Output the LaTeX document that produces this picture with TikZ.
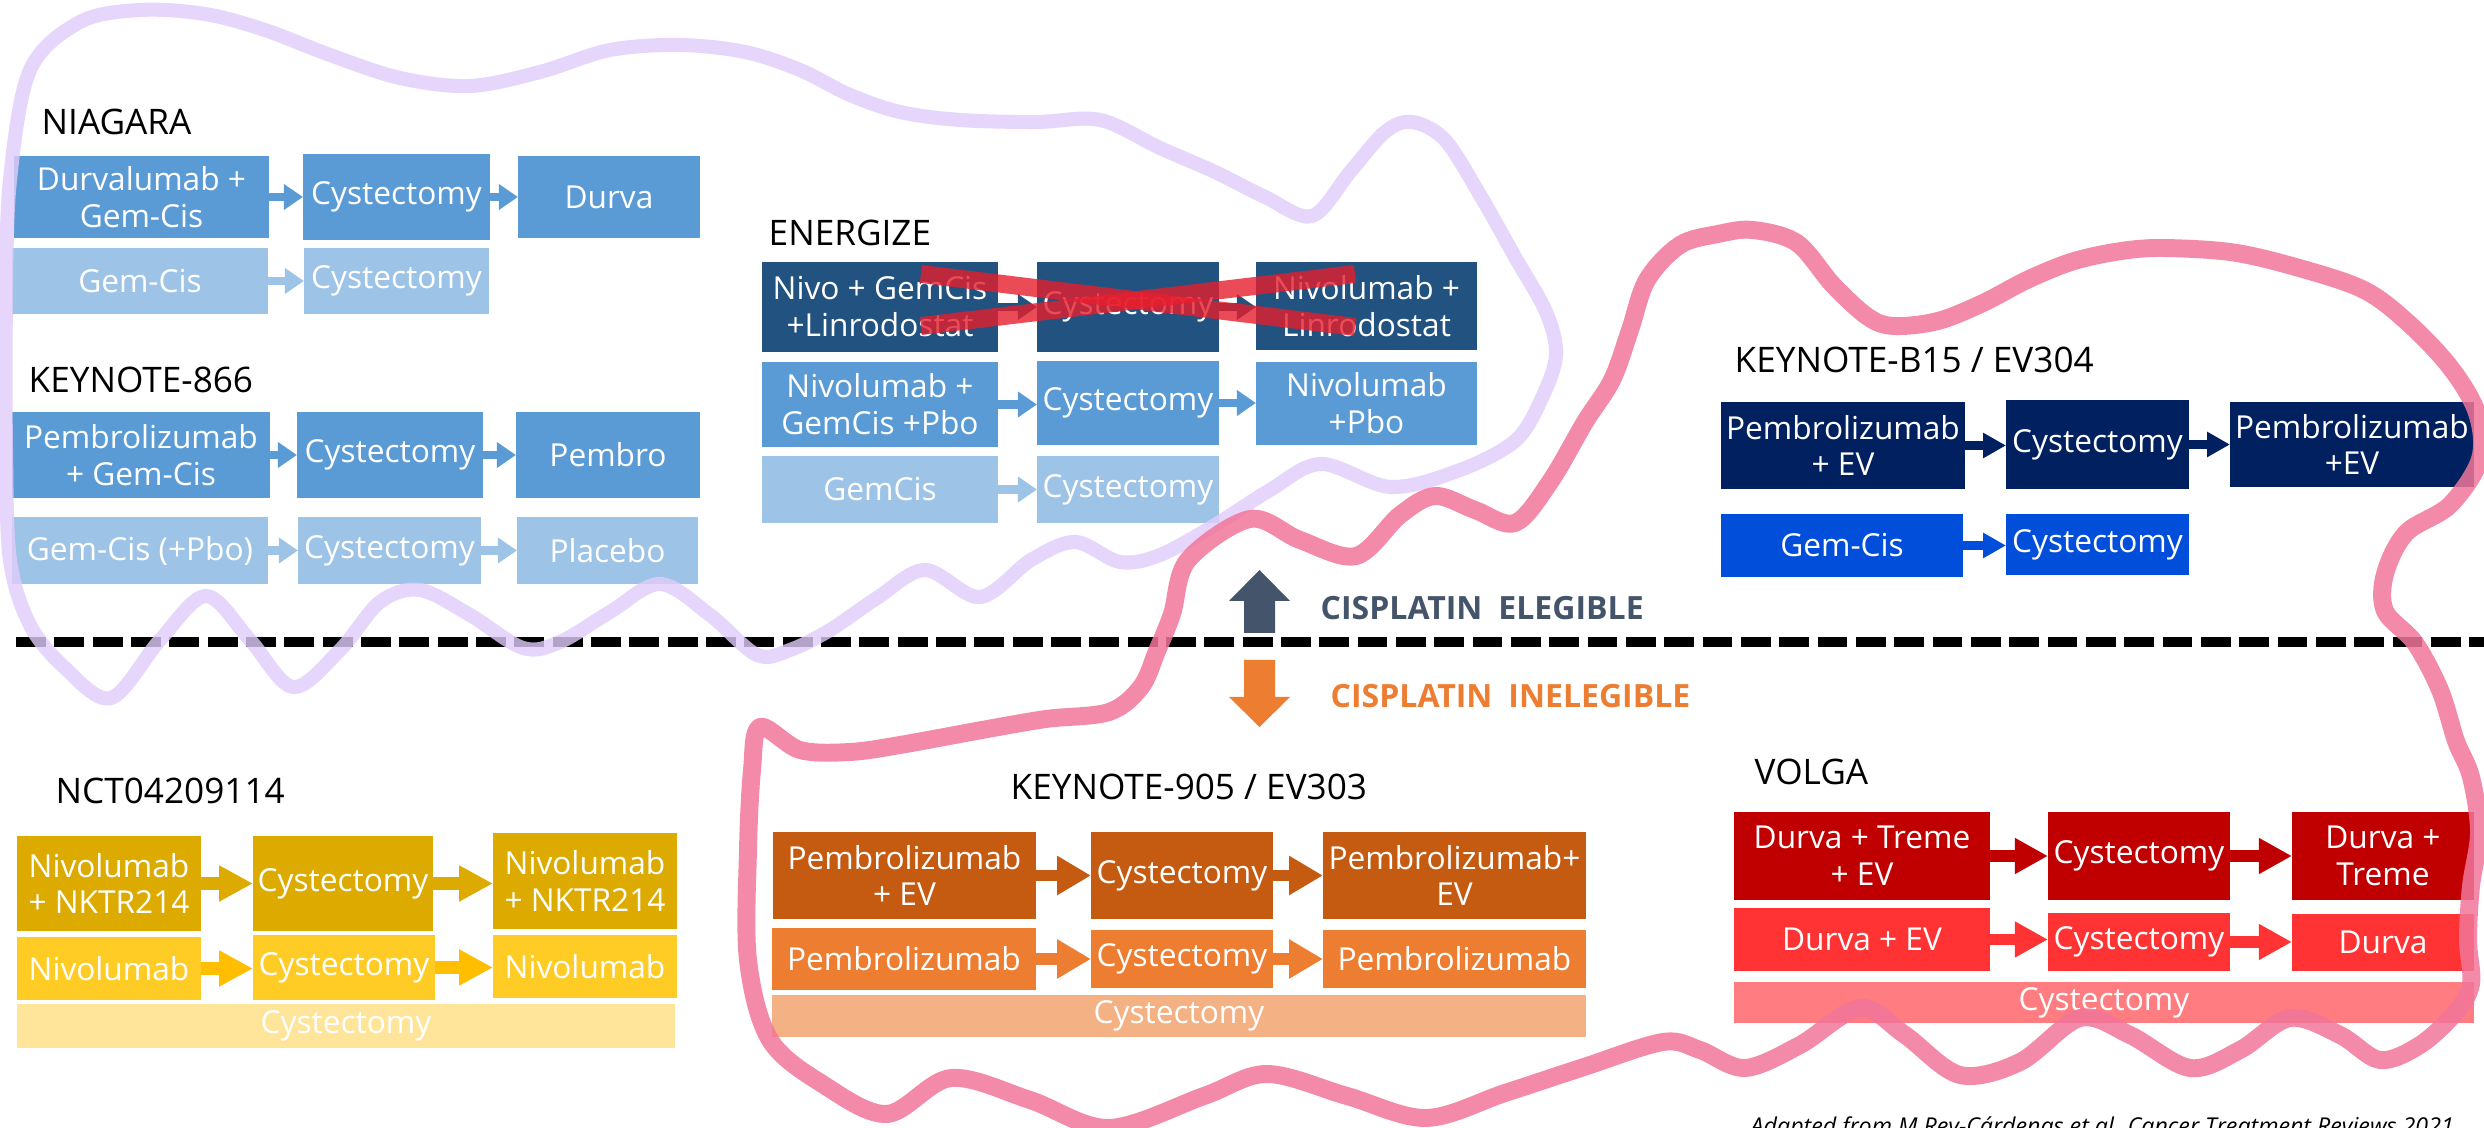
\documentclass[tikz,border=0pt]{standalone}
\usepackage{fontspec}
\setmainfont{Open Sans}
\usetikzlibrary{arrows.meta}
\definecolor{bM}{RGB}{91,155,213}
\definecolor{bL}{RGB}{157,195,230}
\definecolor{bD}{RGB}{34,82,128}
\definecolor{nD}{RGB}{0,32,96}
\definecolor{nB}{RGB}{0,78,218}
\definecolor{yD}{RGB}{221,170,0}
\definecolor{yM}{RGB}{255,204,38}
\definecolor{yA}{RGB}{255,190,0}
\definecolor{yL}{RGB}{255,229,153}
\definecolor{oD}{RGB}{197,90,17}
\definecolor{oM}{RGB}{237,125,49}
\definecolor{oL}{RGB}{244,177,131}
\definecolor{rD}{RGB}{192,0,0}
\definecolor{rM}{RGB}{255,51,51}
\definecolor{rL}{RGB}{255,124,128}
\definecolor{slate}{RGB}{68,84,106}
\definecolor{orng}{RGB}{237,125,49}
\definecolor{lav}{RGB}{226,204,250}
\definecolor{pinkc}{RGB}{242,118,154}
\definecolor{xred}{RGB}{230,30,45}
\tikzset{
  bx/.style={inner sep=0pt, outer sep=0pt, text=white, align=center,
    font=\fontsize{9}{10.5}\selectfont},
  hd/.style={anchor=base west, inner sep=0pt, font=\fontsize{10}{12}\selectfont},
  cis/.style={anchor=base west, inner sep=0pt, font=\fontsize{9.1}{11}\selectfont\bfseries},
  arS/.style={line width=2.3pt, -{Triangle[length=5.4pt,width=7pt]}},
  arK/.style={line width=2.3pt, -{Triangle[length=6.5pt,width=6.8pt]}},
  arY/.style={line width=3.6pt, -{Triangle[length=9.6pt,width=9.6pt]}},
  arO/.style={line width=3.4pt, -{Triangle[length=9.6pt,width=10.5pt]}},
  arR/.style={line width=3.2pt, -{Triangle[length=9.4pt,width=9.6pt]}},
  lavline/.style={draw=lav, line width=4pt, opacity=0.8, line join=round},
  pinkline/.style={draw=pinkc, line width=5.1pt, opacity=0.85, line join=round},
}
\newcommand\mybox[7]{\node[bx, fill=#6, minimum width={0.28453pt*(#4-#2)}, minimum height={0.28453pt*(#5-#3)}] (#1) at ({(#2+#4)/2},{(#3+#5)/2}) {#7};}
\newcommand\myarr[3]{\draw[#3] (#1.east) -- (#1.east -| #2.west);}
\begin{document}
\begin{tikzpicture}[x=0.01cm, y=-0.01cm]
\useasboundingbox (0,0) rectangle (2484,1128);
\fill[white] (0,0) rectangle (2484,1128);

% ---------- NIAGARA ----------
\node[hd] (hNia) at (41,135) {NIAGARA};
\mybox{n11}{14}{156}{269}{238}{bM}{Durvalumab +\\Gem-Cis}
\mybox{n12}{303}{154}{490}{240}{bM}{Cystectomy}
\mybox{n13}{518}{156}{700}{238}{bM}{Durva}
\mybox{n21}{12}{248}{268}{314}{bL}{Gem-Cis}
\mybox{n22}{304}{248}{489}{314}{bL}{Cystectomy}
\myarr{n11}{n12}{arS, draw=bM}
\myarr{n12}{n13}{arS, draw=bM}
\myarr{n21}{n22}{arS, draw=bL}

% ---------- KEYNOTE-866 ----------
\node[hd] (hK866) at (28,393) {KEYNOTE-866};
\mybox{k11}{12}{412}{270}{498}{bM}{Pembrolizumab\\+ Gem-Cis}
\mybox{k12}{297}{412}{483}{498}{bM}{Cystectomy}
\mybox{k13}{516}{412}{700}{498}{bM}{Pembro}
\mybox{k21}{12}{517}{268}{584}{bL}{Gem-Cis (+Pbo)}
\mybox{k22}{298}{517}{481}{584}{bL}{Cystectomy}
\mybox{k23}{517}{517}{698}{584}{bL}{Placebo}
\myarr{k11}{k12}{arS, draw=bM}
\myarr{k12}{k13}{arS, draw=bM}
\myarr{k21}{k22}{arS, draw=bL}
\myarr{k22}{k23}{arS, draw=bL}

% ---------- ENERGIZE ----------
\node[hd] (hEn) at (768,246) {ENERGIZE};
\mybox{e11}{762}{262}{998}{352}{bD}{Nivo + GemCis\\+Linrodostat}
\mybox{e12}{1037}{262}{1219}{352}{bD}{Cystectomy}
\mybox{e13}{1256}{262}{1477}{350}{bD}{Nivolumab +\\Linrodostat}
\mybox{e21}{762}{362}{998}{447}{bM}{Nivolumab +\\GemCis +Pbo}
\mybox{e22}{1037}{361}{1219}{445}{bM}{Cystectomy}
\mybox{e23}{1256}{362}{1477}{445}{bM}{Nivolumab\\+Pbo}
\mybox{e31}{762}{456}{998}{523}{bL}{GemCis}
\mybox{e32}{1037}{456}{1219}{523}{bL}{Cystectomy}
\myarr{e11}{e12}{arS, draw=bD}
\myarr{e12}{e13}{arS, draw=bD}
\myarr{e21}{e22}{arS, draw=bM}
\myarr{e22}{e23}{arS, draw=bM}
\myarr{e31}{e32}{arS, draw=bL}
% red cross
\draw[xred, opacity=0.8, line width=5.1pt] (921,274) -- (1355,327);
\draw[xred, opacity=0.8, line width=5.1pt] (921,326) -- (1355,274);

% ---------- KEYNOTE-B15 / EV304 ----------
\node[hd] (hB15) at (1734,373) {KEYNOTE-B15 / EV304};
\mybox{b11}{1721}{402}{1965}{489}{nD}{Pembrolizumab\\+ EV}
\mybox{b12}{2006}{400}{2189}{489}{nD}{Cystectomy}
\mybox{b13}{2230}{402}{2474}{487}{nD}{Pembrolizumab\\+EV}
\mybox{b21}{1721}{514}{1963}{577}{nB}{Gem-Cis}
\mybox{b22}{2006}{514}{2189}{575}{nB}{Cystectomy}
\myarr{b11}{b12}{arK, draw=nD}
\myarr{b12}{b13}{arK, draw=nD}
\myarr{b21}{b22}{arK, draw=nB}

% ---------- eligibility ----------
\fill[slate] (1244,633) -- (1244,601) -- (1229,601) -- (1259.5,570) -- (1290,601) -- (1275,601) -- (1275,633) -- cycle;
\fill[orng] (1244,660) -- (1275,660) -- (1275,697) -- (1290,697) -- (1259.5,727) -- (1229,697) -- (1244,697) -- cycle;
\node[cis, text=slate] (elig) at (1320,620) {CISPLATIN\hspace{0.5em}ELEGIBLE};
\node[cis, text=orng] (inelig) at (1330,708) {CISPLATIN\hspace{0.5em}INELEGIBLE};
\draw[line width=2.85pt, dash pattern=on 8.5pt off 2.4pt] (16,642) -- (2484,642);

% ---------- NCT04209114 ----------
\node[hd] (hNct) at (55,804) {NCT04209114};
\mybox{c11}{17}{836}{201}{931}{yD}{Nivolumab\\+ NKTR214}
\mybox{c12}{253}{836}{433}{931}{yD}{Cystectomy}
\mybox{c13}{493}{833}{677}{929}{yD}{Nivolumab\\+ NKTR214}
\mybox{c21}{17}{937}{201}{1000}{yM}{Nivolumab}
\mybox{c22}{253}{935}{435}{1000}{yM}{Cystectomy}
\mybox{c23}{493}{935}{677}{998}{yM}{Nivolumab}
\mybox{c31}{17}{1004}{675}{1048}{yL}{Cystectomy}
\myarr{c11}{c12}{arY, draw=yD}
\myarr{c12}{c13}{arY, draw=yD}
\myarr{c21}{c22}{arY, draw=yA}
\myarr{c22}{c23}{arY, draw=yA}

% ---------- KEYNOTE-905 / EV303 ----------
\node[hd] (h905) at (1010,800) {KEYNOTE-905 / EV303};
\mybox{p11}{773}{832}{1036}{919}{oD}{Pembrolizumab\\+ EV}
\mybox{p12}{1091}{832}{1273}{919}{oD}{Cystectomy}
\mybox{p13}{1323}{832}{1586}{919}{oD}{Pembrolizumab+\\EV}
\mybox{p21}{772}{928}{1036}{990}{oM}{Pembrolizumab}
\mybox{p22}{1091}{930}{1273}{988}{oM}{Cystectomy}
\mybox{p23}{1323}{930}{1586}{988}{oM}{Pembrolizumab}
\mybox{p31}{772}{995}{1586}{1037}{oL}{Cystectomy}
\myarr{p11}{p12}{arO, draw=oD}
\myarr{p12}{p13}{arO, draw=oD}
\myarr{p21}{p22}{arO, draw=oM}
\myarr{p22}{p23}{arO, draw=oM}

% ---------- VOLGA ----------
\node[hd] (hVol) at (1754,785) {VOLGA};
\mybox{v11}{1734}{812}{1990}{900}{rD}{Durva + Treme\\+ EV}
\mybox{v12}{2048}{812}{2230}{900}{rD}{Cystectomy}
\mybox{v13}{2292}{812}{2474}{900}{rD}{Durva +\\Treme}
\mybox{v21}{1734}{908}{1990}{971}{rM}{Durva + EV}
\mybox{v22}{2048}{913}{2230}{971}{rM}{Cystectomy}
\mybox{v23}{2292}{914}{2474}{971}{rM}{Durva}
\mybox{v31}{1734}{982}{2474}{1023}{rL}{Cystectomy}
\myarr{v11}{v12}{arR, draw=rD}
\myarr{v12}{v13}{arR, draw=rD}
\myarr{v21}{v22}{arR, draw=rM}
\myarr{v22}{v23}{arR, draw=rM}

% ---------- hand-drawn loops ----------
\draw[lavline] plot[smooth cycle, tension=0.55] coordinates {
 (30,70) (80,22) (140,10) (205,14) (265,30) (330,55) (400,78) (470,86) (540,72)
 (610,50) (680,45) (745,52) (800,70) (850,95) (900,112) (960,120) (1036,122)
 (1100,120) (1160,148) (1215,172) (1265,197) (1312,216) (1350,172) (1385,132)
 (1412,122) (1445,140) (1480,195) (1515,257) (1546,312) (1556,355) (1541,400)
 (1515,441) (1460,470) (1391,487) (1321,464) (1270,490) (1215,525) (1160,555)
 (1120,562) (1075,542) (1031,560) (980,597) (925,570) (877,598) (830,630)
 (790,650) (757,655) (710,615) (660,584) (610,612) (560,642) (523,648) (470,615)
 (420,590) (380,602) (340,650) (293,687) (250,640) (206,596) (160,640) (111,698)
 (65,668) (30,625) (10,560) (6,450) (6,300) (10,180)};
\draw[pinkline] plot[smooth cycle, tension=0.55] coordinates {
 (1188,560) (1250,519) (1300,540) (1356,556) (1400,515) (1435,496) (1475,510)
 (1515,523) (1550,482) (1585,422) (1612,380) (1630,330) (1647,280) (1680,245)
 (1718,234) (1753,230) (1797,243) (1833,285) (1868,317) (1894,326) (1938,321)
 (1983,303) (2027,280) (2071,262) (2115,252) (2159,248) (2230,252) (2292,266)
 (2362,289) (2406,321) (2450,367) (2477,413) (2480,459) (2450,505) (2406,533)
 (2385,574) (2385,611) (2415,643) (2440,690) (2456,741) (2471,777) (2479,832)
 (2471,886) (2468,940) (2471,984) (2455,1013) (2420,1045) (2380,1060) (2340,1035)
 (2290,1018) (2240,1050) (2190,1068) (2130,1035) (2080,1018) (2020,1062)
 (1960,1075) (1905,1035) (1860,1008) (1800,1045) (1745,1068) (1700,1050)
 (1663,1042) (1584,1067) (1505,1093) (1426,1118) (1347,1096) (1267,1074)
 (1204,1096) (1109,1128) (1030,1100) (951,1078) (887,1114) (824,1085) (770,1040)
 (748,960) (748,850) (752,770) (760,727) (800,750) (850,752) (900,745) (982,730)
 (1046,719) (1109,712) (1141,687) (1157,651) (1172,614)};

% ---------- footnote ----------
\node[anchor=base west, inner sep=0pt, font=\fontsize{6.6}{8}\selectfont\itshape] (src) at (1750,1134)
  {Adapted from M Rey-Cárdenas et al. Cancer Treatment Reviews 2021};
\end{tikzpicture}
\end{document}
